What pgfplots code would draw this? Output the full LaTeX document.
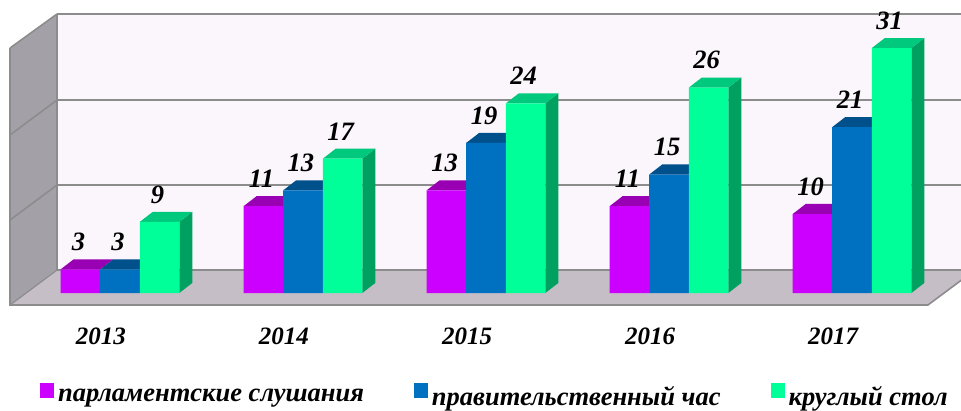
\documentclass[border=0pt]{standalone}
\usepackage{pgfplots}
\usepackage{pgfplotstable}
\pgfplotsset{compat=1.18}
\usepackage{fontspec}
\setmainfont{Liberation Serif}

\definecolor{pfront}{HTML}{CC00FF}
\definecolor{ptop}{HTML}{9900B3}
\definecolor{bfront}{HTML}{0070C0}
\definecolor{btop}{HTML}{00508C}
\definecolor{gfront}{HTML}{00FF99}
\definecolor{gtop}{HTML}{00C87D}
\definecolor{gside}{HTML}{00A060}
\definecolor{backwall}{HTML}{FBF5FC}
\definecolor{sidewall}{HTML}{A4A0A8}
\definecolor{floorc}{HTML}{C6BEC6}
\definecolor{gridc}{HTML}{8C8C8C}

\pgfplotstableread{
x p b g
0 3 3 9
1 11 13 17
2 13 19 24
3 11 15 26
4 10 21 31
}\data

\def\bw{0.216}
\def\ddx{0.071}
\def\ddy{1.27}

% top face of each bar of a series
\newcommand\topfaces[3]{% #1 column, #2 bar shift, #3 colour
  \pgfplotsforeachungrouped \i in {0,...,4}{%
    \pgfplotstablegetelem{\i}{#1}\of\data
    \let\v\pgfplotsretval
    \pgfmathsetmacro\xa{\i+#2-\bw/2}%
    \pgfmathsetmacro\xb{\i+#2+\bw/2}%
    \pgfmathsetmacro\xc{\i+#2+\bw/2+\ddx}%
    \pgfmathsetmacro\xd{\i+#2-\bw/2+\ddx}%
    \pgfmathsetmacro\yt{\v+\ddy}%
    \edef\tmp{\noexpand\addplot[fill=#3,draw=none,forget plot] coordinates {(\xa,\v)(\xb,\v)(\xc,\yt)(\xd,\yt)};}%
    \tmp
  }}
% side face of each bar of a series
\newcommand\sidefaces[3]{% #1 column, #2 bar shift, #3 colour
  \pgfplotsforeachungrouped \i in {0,...,4}{%
    \pgfplotstablegetelem{\i}{#1}\of\data
    \let\v\pgfplotsretval
    \pgfmathsetmacro\xb{\i+#2+\bw/2}%
    \pgfmathsetmacro\xc{\i+#2+\bw/2+\ddx}%
    \pgfmathsetmacro\yt{\v+\ddy}%
    \edef\tmp{\noexpand\addplot[fill=#3,draw=none,forget plot] coordinates {(\xb,0)(\xb,\v)(\xc,\yt)(\xc,\ddy)};}%
    \tmp
  }}

\begin{document}
\begin{tikzpicture}
\begin{axis}[
  width=961pt, height=410pt, scale only axis,
  xmin=-0.6557, xmax=4.5956, ymin=-14.81, ymax=37.09,
  axis line style={draw=none}, tick style={draw=none},
  ytick=\empty,
  xtick={0,1,2,3,4},
  xticklabels={2013,2014,2015,2016,2017},
  xticklabel style={font=\fontsize{25}{30}\selectfont\bfseries\itshape, anchor=base, xshift=-19pt, yshift=66pt},
  /pgf/number format/assume math mode=true,
  legend style={at={(0.515,0.034)}, anchor=center, draw=none, fill=none,
    legend columns=3, font=\fontsize{26.5}{30}\selectfont\bfseries\itshape,
    /tikz/every even column/.append style={column sep=48pt},
    /tikz/every odd column/.append style={column sep=2pt}},
  legend image code/.code={\fill[#1,draw=none] (0pt,-2pt) rectangle (14pt,13pt);},
  nodes near coords style={font=\fontsize{26.5}{30}\selectfont\bfseries\itshape, anchor=south, yshift=15pt, text=black},
]
% back wall
\addplot[fill=backwall, draw=none, forget plot] coordinates {(-0.344,2.91)(4.7,2.91)(4.7,35.32)(-0.344,35.32)};
% left wall
\addplot[fill=sidewall, draw=none, forget plot] coordinates {(-0.601,-1.52)(-0.601,31.01)(-0.344,35.32)(-0.344,2.91)};
% floor
\addplot[fill=floorc, draw=none, forget plot] coordinates {(-0.601,-1.52)(4.415,-1.52)(4.672,2.91)(-0.344,2.91)};
% grid lines on back wall
\addplot[gridc, line width=1.6pt, forget plot] coordinates {(-0.344,13.67)(4.7,13.67)};
\addplot[gridc, line width=1.6pt, forget plot] coordinates {(-0.344,24.43)(4.7,24.43)};
\addplot[gridc, line width=1.6pt, forget plot] coordinates {(-0.344,35.32)(4.7,35.32)};
\addplot[gridc, line width=1.2pt, forget plot] coordinates {(-0.344,2.91)(4.7,2.91)};
% grid lines on left wall and outline
\addplot[gridc, line width=1.6pt, forget plot] coordinates {(-0.601,9.24)(-0.344,13.67)};
\addplot[gridc, line width=1.6pt, forget plot] coordinates {(-0.601,20.0)(-0.344,24.43)};
\addplot[gridc, line width=1.6pt, forget plot] coordinates {(-0.601,31.01)(-0.344,35.32)};
\addplot[gridc, line width=1.2pt, forget plot] coordinates {(-0.344,2.91)(-0.344,35.32)};
\addplot[gridc, line width=1.6pt, forget plot] coordinates {(-0.601,31.01)(-0.601,-1.52)(4.415,-1.52)(4.672,2.91)};
\addplot[gridc, line width=1.2pt, forget plot] coordinates {(-0.601,-1.52)(-0.344,2.91)};

% purple
\topfaces{p}{-0.216}{ptop}
\addplot[ybar, bar width=0.216, bar shift=-0.216, fill=pfront, draw=none, nodes near coords,
  nodes near coords style={xshift=-41.5pt}] table[x=x,y=p]{\data};
\addlegendentry{парламентские слушания}
% blue
\topfaces{b}{0}{btop}
\addplot[ybar, bar width=0.216, bar shift=0, fill=bfront, draw=none, nodes near coords,
  nodes near coords style={xshift=-2pt}] table[x=x,y=b]{\data};
\addlegendentry{правительственный час}
% green
\sidefaces{g}{0.216}{gside}
\topfaces{g}{0.216}{gtop}
\addplot[ybar, bar width=0.216, bar shift=0.216, fill=gfront, draw=none, nodes near coords,
  nodes near coords style={xshift=37.5pt}] table[x=x,y=g]{\data};
\addlegendentry{круглый стол}
\end{axis}
\end{tikzpicture}
\end{document}
